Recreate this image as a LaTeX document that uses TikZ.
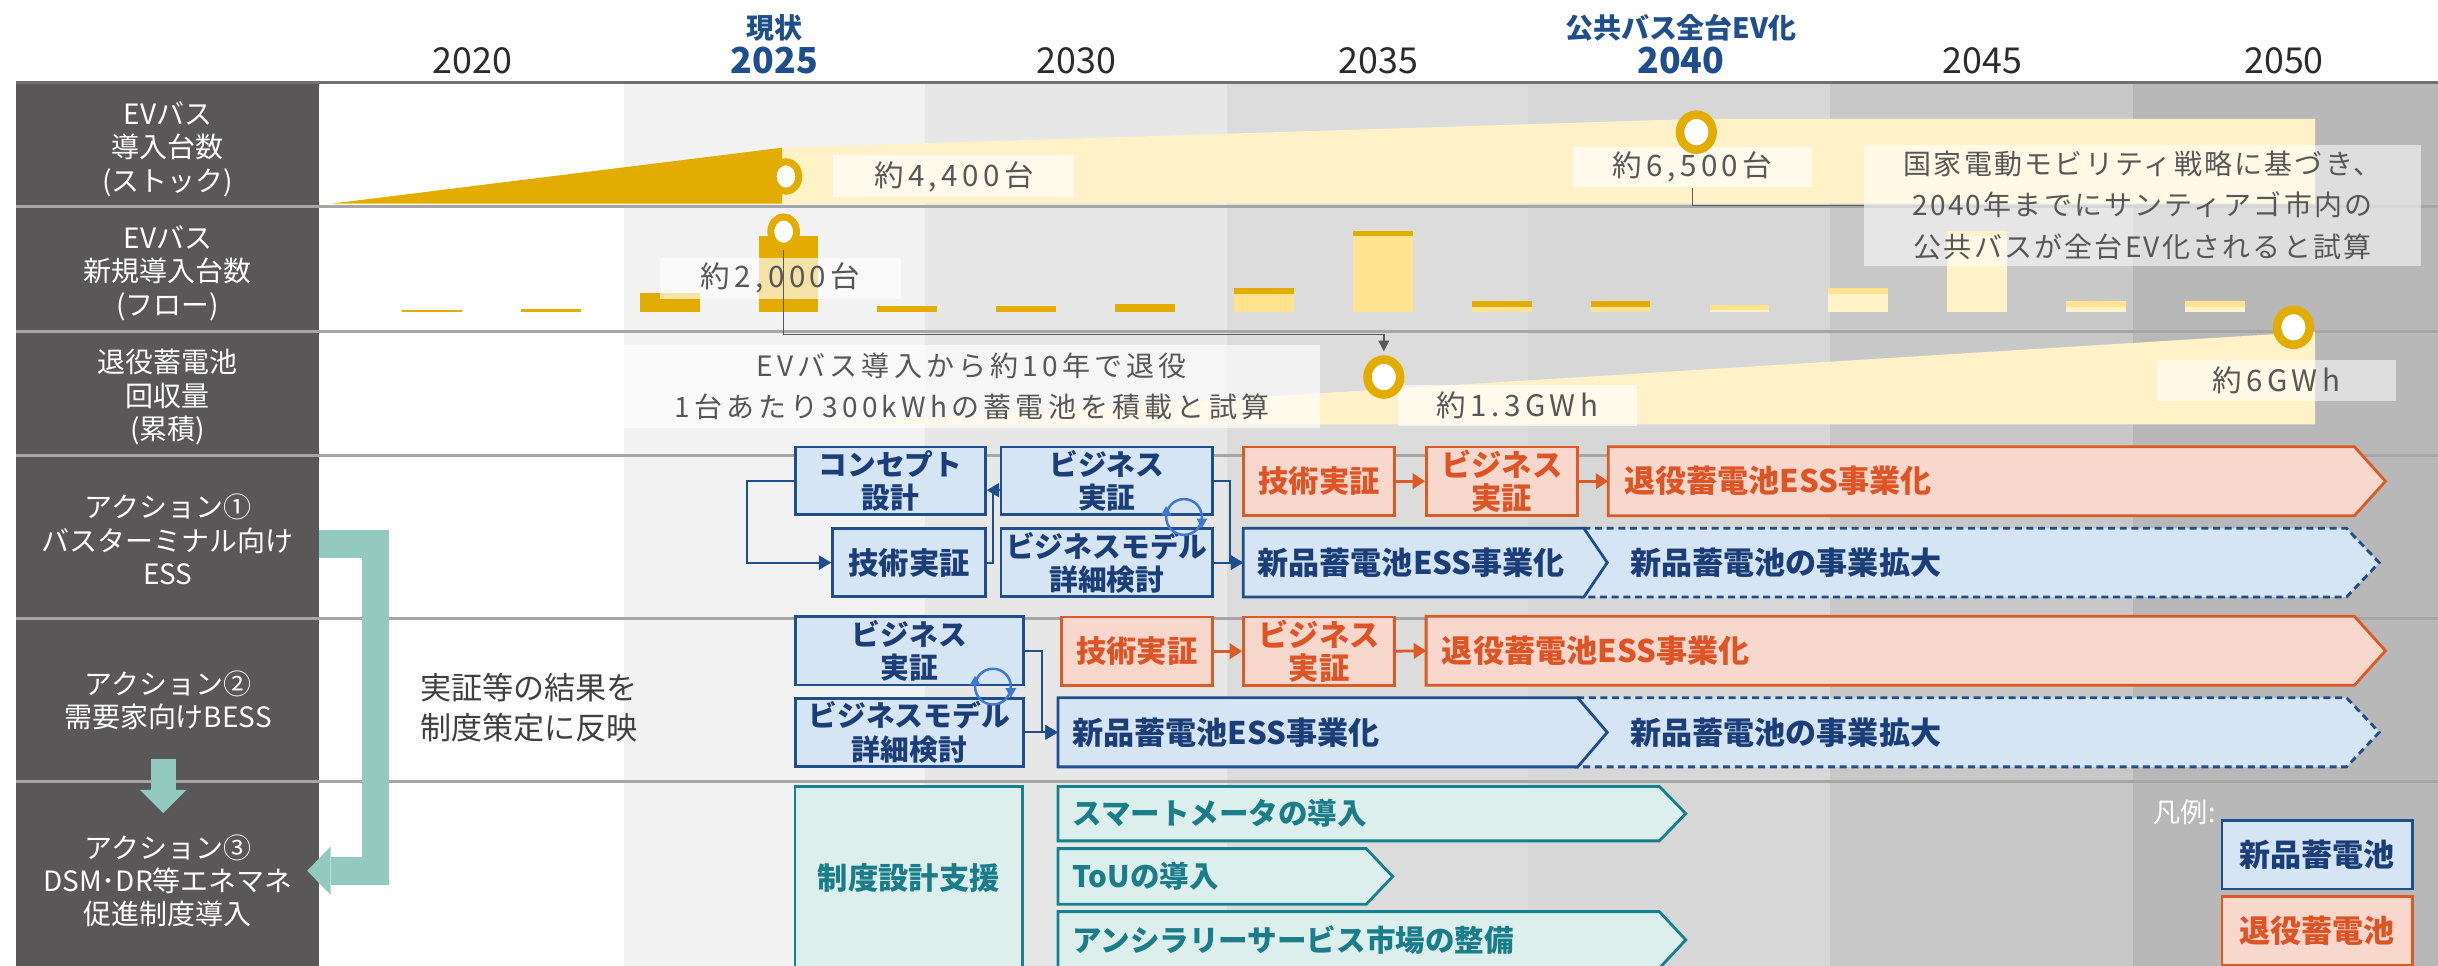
\documentclass[tikz,border=0pt]{standalone}
\usepackage{fontspec}
\setmainfont{Noto Sans CJK JP}
\newfontfamily\trk[LetterSpace=15]{Noto Sans CJK JP}
\newfontfamily\trkn[LetterSpace=8]{Noto Sans CJK JP}
\usetikzlibrary{arrows.meta,calc,shapes.geometric}
\pgfdeclarelayer{bg}
\pgfdeclarelayer{mid}
\pgfsetlayers{bg,mid,main}
\definecolor{darkcol}{HTML}{595757}
\definecolor{gold}{HTML}{E2AC00}
\definecolor{ymid}{HTML}{FFE38F}
\definecolor{ypale}{HTML}{FFF2C9}
\definecolor{bbord}{HTML}{1F4E8C}
\definecolor{bfill}{HTML}{D6E5F4}
\definecolor{btext}{HTML}{1B3E78}
\definecolor{obord}{HTML}{DB5A25}
\definecolor{ofill}{HTML}{F8D8CC}
\definecolor{otext}{HTML}{DD5526}
\definecolor{tbord}{HTML}{17808F}
\definecolor{tfill}{HTML}{DCEFEC}
\definecolor{ttext}{HTML}{1B7D8A}
\definecolor{tealarr}{HTML}{93CABF}
\definecolor{hblue}{HTML}{1F4E8C}
\definecolor{gtext}{HTML}{575757}
\definecolor{ytext}{HTML}{2B2B2B}
\definecolor{sepc}{HTML}{A6A6A6}
\definecolor{hdrc}{HTML}{707070}
\definecolor{cycc}{HTML}{3F78D0}
\definecolor{connc}{HTML}{595959}
\definecolor{colA}{HTML}{F2F2F2}
\definecolor{colB}{HTML}{E7E7E7}
\definecolor{colC}{HTML}{DCDCDC}
\definecolor{colD}{HTML}{D7D7D7}
\definecolor{colE}{HTML}{C8C8C8}
\definecolor{colF}{HTML}{B8B8B8}
\definecolor{dtext}{HTML}{404040}
\newcommand{\chevshape}[3]{\begin{pgfonlayer}{mid}\path[#2] (#1.north west) -- (#1.north east) -- ([xshift=#3]#1.east) -- (#1.south east) -- (#1.south west) -- cycle;\end{pgfonlayer}}
\newcommand{\chevnotch}[4]{\begin{pgfonlayer}{mid}\path[#2] (#1.north west) -- (#1.north east) -- ([xshift=#3]#1.east) -- (#1.south east) -- (#1.south west) -- ([xshift=#4]#1.west) -- cycle;\end{pgfonlayer}}
\newcommand{\barseg}[4]{\fill[#4] ({258.5+76.45*#1},#2) rectangle ({258.5+76.45*#1+38.5},#3);}
\newcommand{\cycicon}[1]{%
  \begin{scope}[shift={(#1)}]
  \draw[cycc, line width=1.6] (0,0) circle[radius=11.5];
  \fill[cycc] (8,1) -- (15,1) -- (11.5,7) -- cycle;
  \fill[cycc] (-8,-1) -- (-15,-1) -- (-11.5,-7) -- cycle;
  \end{scope}}
\begin{document}
\begin{tikzpicture}[x=1pt,y=-1pt,
  lab/.style={text=white, align=center, inner sep=0, font=\fontsize{18}{21.5}\selectfont},
  yr/.style={text=ytext, inner sep=0, font=\fontsize{23}{26}\selectfont},
  yrb/.style={text=hblue, inner sep=0, font=\bfseries\fontsize{23}{26}\selectfont},
  hnote/.style={text=hblue, inner sep=0, font=\bfseries\fontsize{18}{21}\selectfont},
  glab/.style={fill=white, fill opacity=0.65, text opacity=1, text=gtext, inner sep=0, align=center, font=\trk\fontsize{19}{26.5}\selectfont},
  box/.style={draw, line width=1.8, inner sep=0, align=center, line join=miter},
  bbox/.style={box, draw=bbord, fill=bfill, text=btext, font=\bfseries\fontsize{18.5}{21.5}\selectfont},
  obox/.style={box, draw=obord, fill=ofill, text=otext, font=\bfseries\fontsize{19.5}{21.5}\selectfont},
  tbox/.style={box, draw=tbord, fill=tfill, text=ttext, font=\bfseries\fontsize{19.5}{22}\selectfont},
  chev/.style={inner ysep=0, align=left, font=\bfseries\fontsize{20}{22}\selectfont},
  bchev/.style={draw=bbord, fill=bfill, line width=1.8, line join=miter},
  bdash/.style={draw=bbord, fill=bfill, line width=1.8, dash pattern=on 4.5pt off 3pt},
  ochev/.style={draw=obord, fill=ofill, line width=1.8, line join=miter},
  tchev/.style={draw=tbord, fill=tfill, line width=1.8, line join=miter},
  mk/.style={ellipse, draw=gold, fill=white, inner sep=0, line width=5.5, minimum width=21, minimum height=22.5},
  mks/.style={ellipse, draw=gold, fill=white, inner sep=0, line width=4.5, minimum width=16.5, minimum height=19},
  conn/.style={draw=connc, line width=0.9},
  barr/.style={draw=bbord, line width=1.3, -{Triangle[length=8pt,width=9pt]}},
  bline/.style={draw=bbord, line width=1.3},
  oarr/.style={draw=obord, line width=1.8, -{Triangle[length=8pt,width=10pt]}},
]
\useasboundingbox (0,0) rectangle (1568,621);
\begin{pgfonlayer}{bg}
\fill[white] (0,0) rectangle (1568,621);
\fill[colA] (401,54) rectangle (595,621);
\fill[colB] (595,54) rectangle (789,621);
\fill[colC] (789,54) rectangle (983,621);
\fill[colD] (983,54) rectangle (1177,621);
\fill[colE] (1177,54) rectangle (1372,621);
\fill[colF] (1372,54) rectangle (1568,621);
\fill[darkcol] (10,54) rectangle (205,621);
\draw[hdrc, line width=2] (10,53) -- (1568,53);
\foreach \yy in {133,213,292.8,397.7,502.9} \draw[sepc, line width=2] (10,\yy) -- (1568,\yy);
\end{pgfonlayer}

% header
\node[yr] (y20) at (304,39) {2020};
\node[yrb] (y25) at (498,39) {2025};
\node[hnote] (h25) at (498,18) {現状};
\node[yr] (y30) at (692.4,39) {2030};
\node[yr] (y35) at (886.6,39) {2035};
\node[yrb] (y40) at (1081,39) {2040};
\node[hnote] (h40) at (1081,18) {公共バス全台EV化};
\node[yr] (y45) at (1275,39) {2045};
\node[yr] (y50) at (1469,39) {2050};

% left labels
\node[lab] (lab1) at (108,96) {EVバス\\導入台数\\(ストック)};
\node[lab] (lab2) at (108,175.5) {EVバス\\新規導入台数\\(フロー)};
\node[lab] (lab3) at (108,255.5) {退役蓄電池\\回収量\\(累積)};
\node[lab] (lab4) at (108,347) {アクション①\\バスターミナル向け\\ESS};
\node[lab] (lab5) at (108,450.5) {アクション②\\需要家向けBESS};
\node[lab] (lab6r) at (108,566.5) {アクション③\\DSM･DR等エネマネ\\促進制度導入};

% teal bracket & arrows
\draw[tealarr, line width=18, line join=miter] (205,350) -- (241.5,350) -- (241.5,560) -- (212.6,560);
\fill[tealarr] (212.6,544.5) -- (212.6,575.5) -- (197.6,560) -- cycle;
\fill[tealarr] (97,488) rectangle (113,508.5);
\fill[tealarr] (90,508) -- (120,508) -- (105,523) -- cycle;
\node[anchor=west, align=left, inner sep=0, text=dtext, font=\fontsize{20}{26}\selectfont] (refl) at (270,455) {実証等の結果を\\制度策定に反映};

% stock row
\fill[ypale] (503,131) -- (503,95) -- (1091,76.5) -- (1489,76.5) -- (1489,131) -- cycle;
\fill[gold] (213,131) -- (503,95) -- (503,131) -- cycle;

% flow bars
\barseg{0}{199.4}{200.6}{gold}
\barseg{1}{198.6}{200.6}{gold}
\barseg{2}{188.5}{200.6}{gold}
\barseg{3}{152}{200.6}{gold}
\barseg{4}{196.7}{200.6}{gold}
\barseg{5}{196.7}{200.6}{gold}
\barseg{6}{195.5}{200.6}{gold}
\barseg{7}{189}{200.6}{ymid}\barseg{7}{185}{189}{gold}
\barseg{8}{152}{200.6}{ymid}\barseg{8}{148.5}{152}{gold}
\barseg{9}{197.3}{200.6}{ymid}\barseg{9}{193.6}{197.3}{gold}
\barseg{10}{197.3}{200.6}{ymid}\barseg{10}{193.6}{197.3}{gold}
\barseg{11}{199.3}{200.6}{ypale}\barseg{11}{196.4}{199.3}{ymid}
\barseg{12}{189}{200.6}{ypale}\barseg{12}{185}{189}{ymid}
\barseg{13}{152}{200.6}{ypale}\barseg{13}{148.5}{152}{ymid}
\barseg{14}{197.3}{200.6}{ypale}\barseg{14}{193.6}{197.3}{ymid}
\barseg{15}{197.3}{200.6}{ypale}\barseg{15}{193.6}{197.3}{ymid}

% retired row
\fill[ypale] (525,273) -- (1489,213.3) -- (1489,273) -- cycle;

% labels
\node[glab, minimum width=155, minimum height=27] (lab44) at (613.5,113.5) {約4,400台};
\node[glab, minimum width=154, minimum height=26] (lab65) at (1088.5,107.5) {約6,500台};
\node[glab, fill opacity=0.55, font=\trkn\fontsize{18}{26.5}\selectfont, minimum width=358, minimum height=78] (note) at (1378,132) {国家電動モビリティ戦略に基づき、\\2040年までにサンティアゴ市内の\\公共バスが全台EV化されると試算};
\node[glab, minimum width=155, minimum height=26] (lab20) at (502,179) {約2,000台};
\node[glab, font=\trk\fontsize{18}{26.5}\selectfont, minimum width=448, minimum height=53] (ann) at (625,248.5) {EVバス導入から約10年で退役\\1台あたり300kWhの蓄電池を積載と試算};
\node[glab, minimum width=154, minimum height=26] (lab13) at (976,260.7) {約1.3GWh};
\node[glab, fill opacity=0.55, minimum width=154, minimum height=26.5] (lab6) at (1464,244.7) {約6GWh};

% markers
\node[mks] (m25s) at (505.5,113.5) {};
\node[mk] (m40) at (1091,85) {};
\node[mks] (m25f) at (504,149) {};
\node[mk] (m13) at (890,242.5) {};
\node[mk] (m6) at (1475,210.5) {};

\draw[conn] (lab65.south) |- (note.west);
\draw[conn, -{Triangle[length=7pt,width=7pt]}, shorten >=2.5pt] (m25f.south) |- (m13.north |- 0,215) -- (m13.north);

% row 4
\node[bbox, minimum width=122, minimum height=43.5] (concept) at (572.7,309.25) {コンセプト\\設計};
\node[bbox, minimum width=136.2, minimum height=43.5] (biz1) at (711.9,309.25) {ビジネス\\実証};
\node[bbox, font=\bfseries\fontsize{19.5}{22}\selectfont, minimum width=98.1, minimum height=43.7] (tech1) at (584.65,361.85) {技術実証};
\node[bbox, minimum width=136.2, minimum height=43.7] (bm1) at (711.9,361.85) {ビジネスモデル\\詳細検討};
\node[obox, minimum width=97.3, minimum height=44] (tech1o) at (848.35,309.5) {技術実証};
\node[obox, minimum width=97.1, minimum height=44] (biz1o) at (965.95,309.5) {ビジネス\\実証};
\node[chev, text=otext, minimum height=44, inner xsep=10, text width=459.5] (ret1) at (1274.25,309.5) {退役蓄電池ESS事業化};
\node[chev, text=btext, minimum height=43.7, inner xsep=9, text width=200.7] (new1) at (909.15,361.85) {新品蓄電池ESS事業化};
\node[chev, text=btext, minimum height=43.7, inner xsep=30, text width=430.5] (exp1) at (1263.75,361.85) {新品蓄電池の事業拡大};
\chevnotch{exp1}{bdash}{21}{15}
\chevshape{new1}{bchev}{15}
\chevshape{ret1}{ochev}{20}
\draw[barr] (concept.west) -- ++(-30.2,0) |- (tech1.west);
\draw[barr] ([yshift=-6pt]biz1.west) -- ([yshift=-6pt]concept.east);
\draw[bline] (tech1.east) -| ($(concept.east)!0.5!(biz1.west)+(0,6)$);
\draw[barr] (biz1.east) -- ++(10.2,0) |- (new1.west);
\draw[barr] (bm1.east) -- (new1.west);
\draw[oarr] (tech1o.east) -- (biz1o.west);
\draw[oarr] (biz1o.east) -- (ret1.west);
\coordinate (cy1) at (761.5,332.5);
\cycicon{cy1}

% row 5
\node[bbox, minimum width=146.3, minimum height=43.9] (biz2) at (584.85,418.55) {ビジネス\\実証};
\node[bbox, minimum width=146.3, minimum height=44] (bm2) at (584.85,471) {ビジネスモデル\\詳細検討};
\node[obox, minimum width=97.5, minimum height=44] (tech2o) at (731.25,418.8) {技術実証};
\node[obox, minimum width=97.3, minimum height=44] (biz2o) at (848.35,418.8) {ビジネス\\実証};
\node[chev, text=otext, minimum height=44, inner xsep=10, text width=576.6] (ret2) at (1215.7,418.55) {退役蓄電池ESS事業化};
\node[chev, text=btext, minimum height=44, inner xsep=9, text width=315.9] (new2) at (847.55,471) {新品蓄電池ESS事業化};
\node[chev, text=btext, minimum height=44, inner xsep=34, text width=426.5] (exp2) at (1261.75,471) {新品蓄電池の事業拡大};
\chevnotch{exp2}{bdash}{21}{19}
\chevshape{new2}{bchev}{19}
\chevshape{ret2}{ochev}{20}
\draw[barr] (biz2.east) -- ++(11,0) |- (new2.west);
\draw[barr] (bm2.east) -- (new2.west);
\draw[oarr] (tech2o.east) -- (biz2o.west);
\draw[oarr] (biz2o.east) -- (ret2.west);
\coordinate (cy2) at (638.6,441.6);
\cycicon{cy2}

% row 6
\node[tbox, minimum width=146.5, minimum height=118] (policy) at (584.55,565) {制度設計支援};
\node[chev, text=ttext, font=\bfseries\fontsize{19}{22}\selectfont, minimum height=34.6, inner xsep=9, text width=368.3] (smart) at (873.85,523.3) {スマートメータの導入};
\node[chev, text=ttext, font=\bfseries\fontsize{19}{22}\selectfont, minimum height=35.4, inner xsep=9, text width=179.8] (tou) at (779.6,563.7) {ToUの導入};
\node[chev, text=ttext, font=\bfseries\fontsize{19}{22}\selectfont, minimum height=36, inner xsep=9, text width=368.3] (anc) at (873.85,604.5) {アンシラリーサービス市場の整備};
\chevshape{smart}{tchev}{17}
\chevshape{tou}{tchev}{17}
\chevshape{anc}{tchev}{17}

% legend
\node[text=white, font=\fontsize{17.5}{20}\selectfont, inner sep=0] (legt) at (1405,522.5) {凡例:};
\node[bbox, font=\bfseries\fontsize{20}{22}\selectfont, minimum width=122.5, minimum height=44] (leg1) at (1490.25,549.75) {新品蓄電池};
\node[obox, font=\bfseries\fontsize{20}{22}\selectfont, minimum width=122.5, minimum height=44] (leg2) at (1490.25,598.65) {退役蓄電池};
\end{tikzpicture}
\end{document}
